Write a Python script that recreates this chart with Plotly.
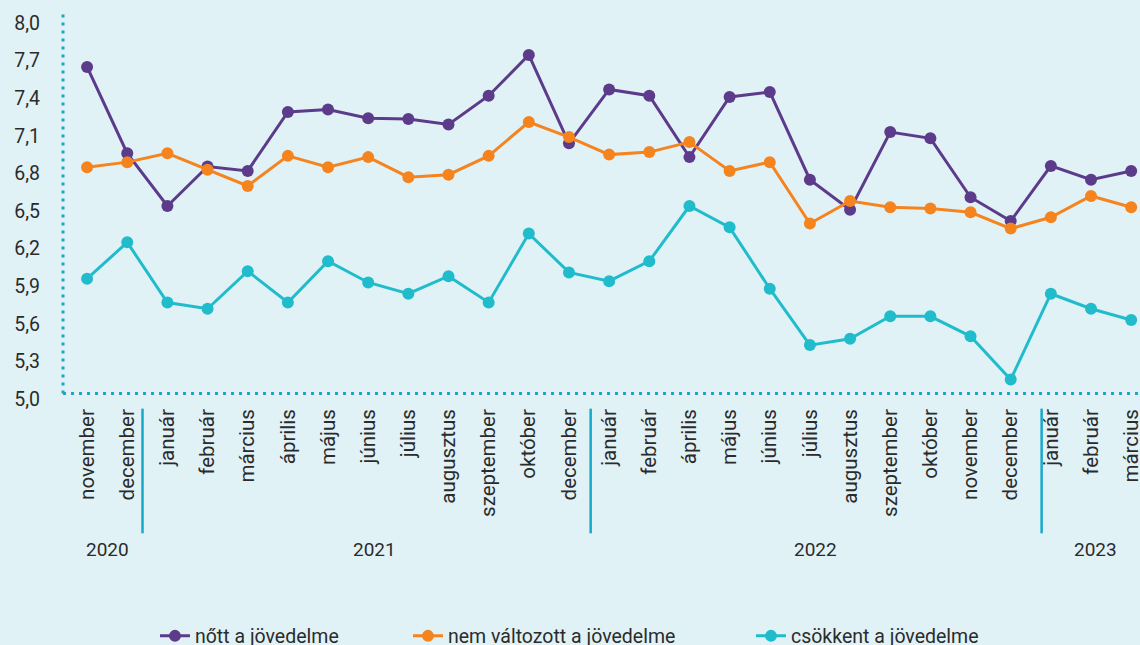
#!/usr/bin/env python3
"""Jövedelem-várakozások havonta, 2020 november - 2023 március."""

import plotly.graph_objects as go

# Months on the x axis (2021 november and 2022 március are missing in the source)
months = ["november", "december",
          "január", "február", "március", "április", "május", "június", "július",
          "augusztus", "szeptember", "október", "december",
          "január", "február", "április", "május", "június", "július",
          "augusztus", "szeptember", "október", "november", "december",
          "január", "február", "március"]

years = ["2020", "2021", "2022", "2023"]
year_centers = [0.5, 7.15, 18.15, 25.1]
year_breaks = [1.38, 12.54, 23.77]

nott = [7.65, 6.96, 6.54, 6.855, 6.82, 7.29, 7.31, 7.24, 7.235, 7.19, 7.42, 7.745, 7.04,
        7.47, 7.42, 6.93, 7.41, 7.45, 6.75, 6.51, 7.13, 7.08, 6.61, 6.42,
        6.86, 6.75, 6.82]
nem_valtozott = [6.85, 6.89, 6.96, 6.83, 6.70, 6.94, 6.85, 6.93, 6.77, 6.79, 6.94, 7.21, 7.09,
                 6.95, 6.97, 7.05, 6.82, 6.89, 6.40, 6.58, 6.53, 6.52, 6.49, 6.36,
                 6.45, 6.62, 6.53]
csokkent = [5.96, 6.25, 5.77, 5.72, 6.02, 5.77, 6.10, 5.93, 5.84, 5.98, 5.77, 6.32, 6.01,
            5.94, 6.10, 6.54, 6.37, 5.88, 5.43, 5.48, 5.66, 5.66, 5.50, 5.155,
            5.84, 5.72, 5.63]

y_ticks = [5.0, 5.3, 5.6, 5.9, 6.2, 6.5, 6.8, 7.1, 7.4, 7.7, 8.0]

FONT = "Roboto"
TEXT = "#2b2b2b"
AXIS = "#1aa6cc"
BG = "#e1f2f7"

x = list(range(len(months)))

series = [
    ("nőtt a jövedelme", nott, "#5c3b8b", 208),
    ("nem változott a jövedelme", nem_valtozott, "#f5841f", 298),
    ("csökkent a jövedelme", csokkent, "#21bccc", None),
]

fig = go.Figure()
for name, vals, color, lw in series:
    fig.add_trace(go.Scatter(x=x, y=vals, name=name, mode="lines+markers",
                             line=dict(color=color, width=3),
                             marker=dict(color=color, size=12),
                             legendwidth=lw))

# plot bottom sits on the 5,0 tick, the dotted axes are drawn as shapes
fig.add_shape(type="line", xref="paper", yref="paper", x0=0, x1=0, y0=0.014, y1=1,
              line=dict(color=AXIS, width=3, dash="3px,5px"))
fig.add_shape(type="line", xref="paper", yref="paper", x0=0, x1=1, y0=0.014, y1=0.014,
              line=dict(color=AXIS, width=3, dash="3px,5px"))

for xb in year_breaks:
    fig.add_shape(type="line", xref="x", yref="paper", x0=xb, x1=xb, y0=-0.025, y1=-0.348,
                  line=dict(color="#17a9c9", width=2.5))

for yr, xc in zip(years, year_centers):
    fig.add_annotation(x=xc, y=-0.389, xref="x", yref="paper", text=yr, showarrow=False,
                       yanchor="middle", font=dict(family=FONT, size=19, color=TEXT))

fig.update_layout(
    width=1140, height=645,
    paper_bgcolor=BG, plot_bgcolor=BG,
    margin=dict(l=63, r=0, t=13, b=245.5, autoexpand=False),
    separators=", ",
    showlegend=True,
    legend=dict(orientation="h", x=0.0854, xanchor="left", y=-0.6145, yanchor="middle",
                itemwidth=30, font=dict(family=FONT, size=19.5, color=TEXT),
                bgcolor="rgba(0,0,0,0)"),
    font=dict(family=FONT, color=TEXT),
)
fig.update_xaxes(range=[-0.6, 26.22], tickmode="array", tickvals=x, ticktext=months,
                 tickangle=-90, showgrid=False, zeroline=False, showline=False,
                 ticklabelstandoff=5, ticklabeloverflow="allow",
                 tickfont=dict(family=FONT, size=20.5, color=TEXT))
fig.update_yaxes(range=[5.0, 8.08], tickmode="array", tickvals=y_ticks, tickformat=".1f",
                 showgrid=False, zeroline=False, showline=False, ticklabelstandoff=22,
                 tickfont=dict(family=FONT, size=19.5, color=TEXT))

fig.write_html("out.html", config={"displayModeBar": False},
               post_script="document.body.style.margin='0px';")
